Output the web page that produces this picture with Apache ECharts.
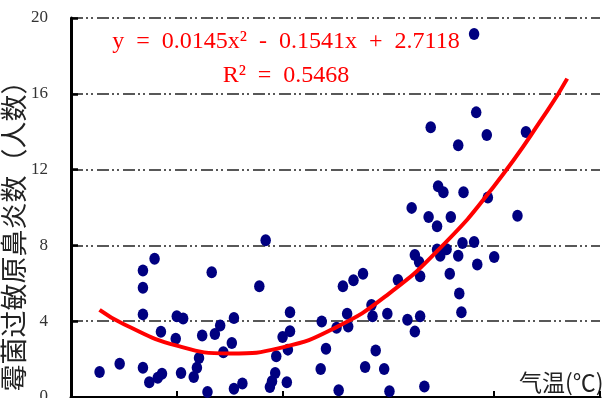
<!DOCTYPE html>
<html>
<head>
<meta charset="utf-8">
<script src="https://cdn.jsdelivr.net/npm/echarts@6/dist/echarts.min.js"></script>
<style>
  html, body { margin: 0; padding: 0; background: #fff; }
  #chart { width: 609px; height: 398px; }
</style>
</head>
<body>
<div id="chart"></div>
<script>
// 气温 (°C) vs 霉菌过敏原鼻炎数 (人数)
const tempX = [
  -7.3, -5.4, -3.2, -3.2, -2.1, -3.2, -3.2, -2.6, -1.5, -1.4,
  -1.8, 0.0, 0.6, -0.1, 0.4, 1.6, 1.9, 2.1, 2.4, 2.9,
  3.3, 3.6, 4.1, 4.4, 5.2, 5.4, 5.4, 6.2, 7.8, 8.4,
  8.8, 9.0, 9.3, 9.4, 10.0, 10.4, 10.5, 10.7, 10.7, 13.6,
  13.7, 14.1, 15.1, 15.3, 15.7, 16.1, 16.2, 16.7, 17.6, 17.8,
  18.4, 18.5, 18.8, 19.6, 19.9, 20.1, 20.9, 21.8, 22.2, 22.5,
  22.5, 22.9, 23.0, 23.0, 23.4, 23.8, 24.0, 24.6, 24.6, 24.7,
  24.9, 25.2, 25.5, 25.8, 25.9, 26.6, 26.6, 26.7, 26.9, 27.0,
  27.1, 28.1, 28.1, 28.3, 28.4, 29.3, 29.4, 30.0, 32.2, 33.0
];
const cases = [
  1.32, 1.75, 6.67, 5.76, 7.29, 4.36, 1.54, 0.78, 3.44, 1.23,
  1.02, 4.26, 4.14, 3.07, 1.27, 1.06, 1.54, 2.06, 3.24, 0.27,
  6.58, 3.33, 3.77, 2.36, 2.85, 4.17, 0.44, 0.71, 5.84, 8.27,
  0.53, 0.83, 1.27, 2.15, 3.17, 0.78, 2.50, 3.47, 4.47, 1.48,
  3.99, 2.55, 3.65, 0.35, 5.85, 4.39, 3.72, 6.16, 6.50, 1.58,
  4.85, 4.26, 2.45, 1.48, 4.39, 0.30, 6.17, 4.08, 9.98, 3.45,
  7.49, 7.12, 6.37, 4.26, 0.55, 9.50, 14.23, 7.78, 9.01, 11.12,
  7.46, 10.80, 7.80, 6.50, 9.50, 13.28, 7.46, 5.46, 4.47, 8.13,
  10.80, 19.16, 8.18, 15.02, 6.99, 13.83, 10.53, 7.39, 9.57, 13.99
];

// trend curve
const trendX = [-7.3, -5, 0, 5, 10, 15, 20, 25, 30, 35, 36.9];
const trendY = [4.6, 3.84, 2.71, 2.3, 2.62, 3.66, 5.43, 7.92, 11.14, 15.08, 16.8];

const yTicks = [0, 4, 8, 12, 16, 20];
const fitText = 'y  =  0.0145x²  -  0.1541x  +  2.7118';
const r2Text = 'R²  =  0.5468';

const chart = echarts.init(document.getElementById('chart'), null, { renderer: 'canvas' });

const dashDot = [12, 3, 2, 3, 2, 4];

chart.setOption({
  backgroundColor: '#fff',
  animation: false,
  grid: { left: 71, right: 9, top: 18, bottom: 1, containLabel: false, outerBoundsMode: 'none' },
  xAxis: {
    type: 'value',
    min: -10, max: 40, interval: 10,
    name: '气温(℃)',
    nameLocation: 'end',
    nameGap: -81,
    nameTextStyle: {
      fontFamily: 'Noto Sans CJK SC', fontSize: 23, color: '#222',
      align: 'left', verticalAlign: 'bottom', padding: [0, 0, 3, 0]
    },
    axisLine: { onZero: false, lineStyle: { color: '#000', width: 3 } },
    axisTick: { inside: true, length: 6, lineStyle: { color: '#000', width: 2 } },
    axisLabel: { show: false },
    splitLine: { show: false }
  },
  yAxis: {
    type: 'value',
    min: yTicks[0], max: yTicks[yTicks.length - 1], interval: 4,
    name: '霉菌过敏原鼻炎数（人数）',
    nameLocation: 'middle',
    nameGap: 44,
    nameMoveOverlap: false,
    nameTextStyle: {
      fontFamily: 'Noto Sans CJK SC', fontSize: 27, color: '#222',
      padding: [0, 44, 0, 0]
    },
    axisLine: { onZero: false, lineStyle: { color: '#000', width: 3 } },
    axisTick: { inside: true, length: 7, lineStyle: { color: '#000', width: 2.5 } },
    axisLabel: {
      margin: 23,
      fontFamily: 'Liberation Serif', fontSize: 17, color: '#333'
    },
    splitLine: { show: true, lineStyle: { color: '#222', width: 1.5, type: dashDot } }
  },
  graphic: [
    {
      type: 'text', x: 286, y: 42,
      style: {
        text: fitText, fill: '#ff0000',
        font: '24px "Liberation Serif"', align: 'center', verticalAlign: 'middle'
      }
    },
    {
      type: 'text', x: 286, y: 76,
      style: {
        text: r2Text, fill: '#ff0000',
        font: '24px "Liberation Serif"', align: 'center', verticalAlign: 'middle'
      }
    }
  ],
  series: [
    {
      name: 'cases',
      type: 'scatter',
      symbol: 'circle',
      symbolSize: [10.5, 12],
      itemStyle: { color: '#000080', opacity: 1 },
      data: tempX.map((x, i) => [x, cases[i]]),
      z: 3
    },
    {
      name: 'trend',
      type: 'line',
      smooth: true,
      symbol: 'none',
      lineStyle: { color: '#ff0000', width: 4 },
      data: trendX.map((x, i) => [x, trendY[i]]),
      z: 4
    }
  ]
});
</script>
</body>
</html>
